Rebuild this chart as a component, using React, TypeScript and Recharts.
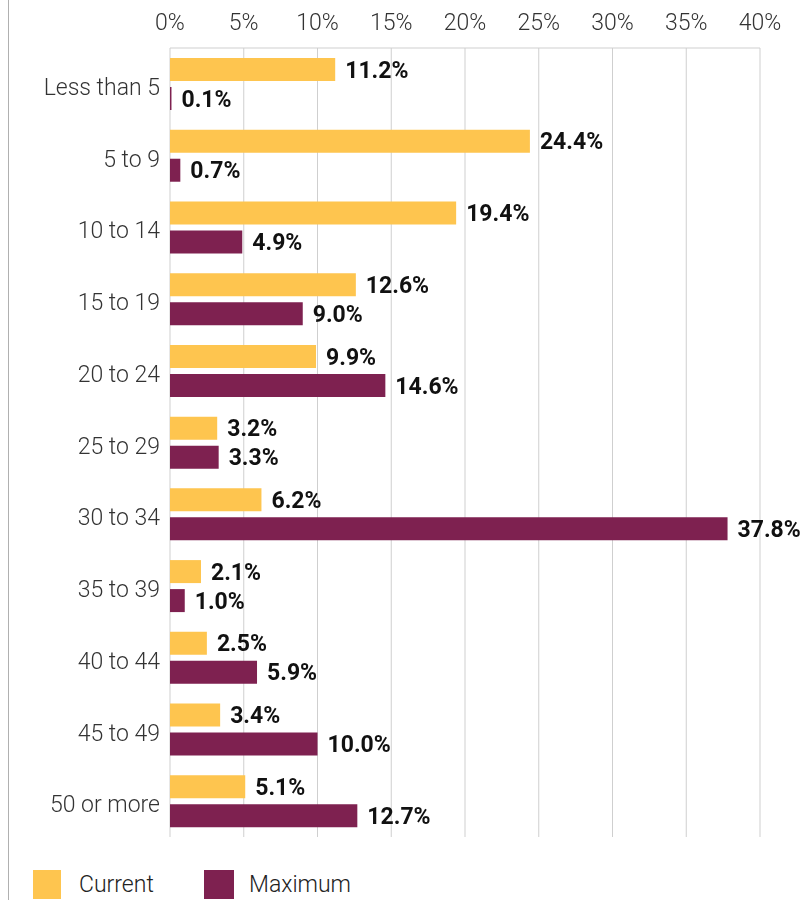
import { BarChart, Bar, XAxis, YAxis, CartesianGrid, LabelList } from "recharts";

const categories = [
  "Less than 5",
  "5 to 9",
  "10 to 14",
  "15 to 19",
  "20 to 24",
  "25 to 29",
  "30 to 34",
  "35 to 39",
  "40 to 44",
  "45 to 49",
  "50 or more",
];
const currentValues = [11.2, 24.4, 19.4, 12.6, 9.9, 3.2, 6.2, 2.1, 2.5, 3.4, 5.1];
const maximumValues = [0.1, 0.7, 4.9, 9.0, 14.6, 3.3, 37.8, 1.0, 5.9, 10.0, 12.7];
const xTicks = [0, 5, 10, 15, 20, 25, 30, 35, 40];

const CURRENT = "#fec54f";
const MAXIMUM = "#7e2150";
const FONT = "Roboto, 'Noto Sans', sans-serif";

const data = categories.map((name, i) => ({
  name,
  current: currentValues[i],
  maximum: maximumValues[i],
}));

const fmt = (v: number) => `${v.toFixed(1)}%`;

const labelStyle = { fill: "#111", fontSize: 23, fontWeight: 700, fontFamily: FONT };
const tickStyle = { fill: "#333", fontSize: 23, fontWeight: 300, fontFamily: FONT };

export default function App() {
  return (
    <div style={{ position: "relative", width: 801, fontFamily: FONT }}>
      {/* grey frame line down the left edge */}
      <div style={{ position: "fixed", left: 8, top: 0, height: 900, width: 1, background: "#b0b0b0" }} />
      <BarChart
        width={801}
        height={838}
        data={data}
        layout="vertical"
        margin={{ top: 10, right: 49, bottom: 9, left: 0 }}
        barSize={23}
        barGap={6}
      >
        <CartesianGrid horizontal={false} stroke="#cfcfcf" />
        <XAxis
          type="number"
          orientation="top"
          domain={[0, 40]}
          ticks={xTicks}
          tickFormatter={(v: number) => `${v}%`}
          height={30}
          axisLine={{ stroke: "#cfcfcf" }}
          tickLine={false}
          tickMargin={12}
          tick={tickStyle}
        />
        <YAxis
          type="category"
          dataKey="name"
          width={162}
          axisLine={false}
          tickLine={false}
          tickSize={0}
          tickMargin={10}
          tick={{ ...tickStyle, dy: 3 }}
        />
        <Bar dataKey="current" fill={CURRENT} isAnimationActive={false}>
          <LabelList dataKey="current" position="right" offset={10} formatter={fmt} style={labelStyle} />
        </Bar>
        <Bar dataKey="maximum" fill={MAXIMUM} isAnimationActive={false}>
          <LabelList dataKey="maximum" position="right" offset={10} formatter={fmt} style={labelStyle} />
        </Bar>
      </BarChart>
      <div style={{ display: "flex", alignItems: "center", marginTop: 24, paddingLeft: 25, fontSize: 23, fontWeight: 300, color: "#222" }}>
        <span style={{ width: 28, height: 29, background: CURRENT, display: "inline-block" }} />
        <span style={{ marginLeft: 18, width: 125 }}>Current</span>
        <span style={{ width: 30, height: 29, background: MAXIMUM, display: "inline-block" }} />
        <span style={{ marginLeft: 15 }}>Maximum</span>
      </div>
    </div>
  );
}
